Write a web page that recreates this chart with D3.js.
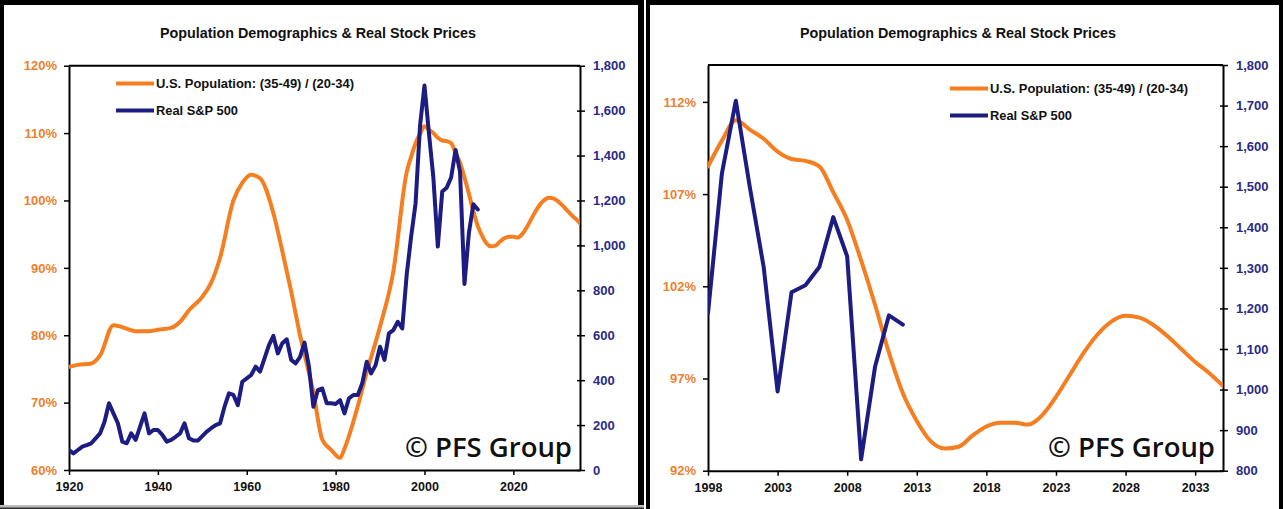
<!DOCTYPE html>
<html>
<head>
<meta charset="utf-8">
<script src="https://cdn.jsdelivr.net/npm/d3@7"></script>
<style>
  html, body { margin: 0; padding: 0; background: #fff; }
  svg { display: block; }
</style>
</head>
<body>
<svg id="chart" width="1283" height="509"></svg>
<script>
// ---------- DATA ----------
const chartTitle = "Population Demographics & Real Stock Prices";
const seriesNames = ["U.S. Population: (35-49) / (20-34)", "Real S&P 500"];
const watermark = "\u00A9 PFS Group";

// U.S. population ratio (35-49)/(20-34), percent
const popYears = [1920,1922,1925,1927,1930,1932,1935,1938,1940,1943,1945,1947,1950,1952,1954,1957,1959,1961,1963,1966,1968,1970,1972,1975,1977,1979,1981,1982,1985,1987,1990,1993,1996,1997,
  1998,1999,2000,2001,2002,2003,2004,2005,2006,2007,2008,2009,2010,2011,2012,2013,2014,2015,2016,2017,2018,2019,2020,2021,2022,2023,2024,2025,2026,2027,2028,2029,2030,2031,2032,2033,2034,2035];
const popValues = [75.3,75.6,75.8,77.0,81.5,81.2,80.6,80.6,80.8,81.1,82.0,83.7,85.7,87.8,91.5,100.0,102.6,103.8,103.3,98.1,92.5,86.5,80.0,71.5,64.5,63.0,61.8,63.2,69.5,74.5,81.3,89.5,104.2,106.5,
  108.5,109.9,111.0,110.5,110.0,109.3,108.9,108.8,108.5,107.1,105.6,103.4,101.0,98.4,96.2,94.7,93.6,93.2,93.3,93.9,94.4,94.6,94.6,94.5,95.0,96.0,97.2,98.4,99.4,100.1,100.4,100.3,99.9,99.3,98.6,97.9,97.3,96.6];

// Real S&P 500, annual
const spYears = d3.range(1920, 2013);
const spValues = [89,74,89,104,111,119,141,163,215,297,252,208,126,119,163,134,193,252,163,178,
  178,156,126,134,148,163,208,141,131,131,151,171,186,200,208,282,341,334,289,393,
  408,423,460,438,497,556,597,519,564,582,490,475,504,567,460,282,356,363,297,297,
  294,311,252,319,334,334,386,482,430,467,549,490,608,623,660,630,870,1040,1188,1533,
  1712,1500,1302,995,1240,1257,1302,1425,1328,828,1056,1183,1160];

// Axis ticks
const leftXTicks = [1920,1940,1960,1980,2000,2020];
const leftPctTicks = [60,70,80,90,100,110,120];
const leftSpTicks = [0,200,400,600,800,1000,1200,1400,1600,1800];
const rightXTicks = [1998,2003,2008,2013,2018,2023,2028,2033];
const rightPctTicks = [92,97,102,107,112];
const rightSpTicks = [800,900,1000,1100,1200,1300,1400,1500,1600,1700,1800];

// ---------- STYLE ----------
const ORANGE = "#F47E20";
const ORANGE_TXT = "#EE7F2F";
const NAVY = "#1C1C82";
const NAVY_TXT = "#2A2A88";
const FONT = "'Liberation Sans', Arial, sans-serif";

const svg = d3.select("#chart");
svg.append("rect").attr("width",1283).attr("height",509).attr("fill","#fff");

const pop = popYears.map((y,i)=>({x:y, v:popValues[i]}));
const sp = spYears.map((y,i)=>({x:y, v:spValues[i]}));

function panel(cfg) {
  const g = svg.append("g");
  const x = d3.scaleLinear().domain(cfg.xDomain).range([cfg.x0, cfg.x1]);
  const yP = d3.scaleLinear().domain(cfg.pDomain).range([cfg.y1, cfg.y0]);
  const yS = d3.scaleLinear().domain(cfg.sDomain).range([cfg.y1, cfg.y0]);

  // title
  g.append("text").attr("x", cfg.titleX).attr("y", 38)
    .attr("text-anchor","middle").attr("font-family",FONT).attr("font-weight","bold")
    .attr("font-size",15).attr("fill","#111")
    .attr("textLength",316).attr("lengthAdjust","spacingAndGlyphs")
    .text(chartTitle);

  // axes
  const ax = d3.axisBottom(x).tickValues(cfg.xTicks).tickFormat(d3.format("d")).tickSize(5).tickSizeOuter(0);
  const axL = d3.axisLeft(yP).tickValues(cfg.pTicks).tickFormat(d=>d+"%").tickSize(5).tickSizeOuter(0);
  const axR = d3.axisRight(yS).tickValues(cfg.sTicks).tickFormat(d3.format(",")).tickSize(5).tickSizeOuter(0);

  const gx = g.append("g").attr("transform",`translate(0,${cfg.y1})`).call(ax);
  gx.selectAll("text").attr("font-size",12.5).attr("font-weight","bold").attr("fill","#111").attr("dy","1.05em");
  const gl = g.append("g").attr("transform",`translate(${cfg.x0},0)`).call(axL);
  gl.selectAll("text").attr("font-size",13).attr("font-weight","bold").attr("fill",ORANGE_TXT).attr("x",-12);
  const gr = g.append("g").attr("transform",`translate(${cfg.x1},0)`).call(axR);
  gr.selectAll("text").attr("font-size",13).attr("font-weight","bold").attr("fill",NAVY_TXT).attr("x",13);
  gr.selectAll(".tick line").attr("x1",-3);
  [gx,gl,gr].forEach(s=>{
    s.attr("font-family",FONT);
    s.selectAll("path").attr("stroke","#000").attr("stroke-width",2);
    s.selectAll(".tick line").attr("stroke","#000").attr("stroke-width",1.5);
  });
  // top border of plot area
  g.append("line").attr("x1",cfg.x0).attr("x2",cfg.x1).attr("y1",cfg.y0).attr("y2",cfg.y0)
    .attr("stroke","#000").attr("stroke-width",2);

  // watermark
  g.append("text").attr("x", cfg.wmX).attr("y", 457).attr("text-anchor","end")
    .attr("font-family","'Open Sans', sans-serif").attr("font-weight",600).attr("font-size",27)
    .attr("fill","#111").attr("textLength",167).attr("lengthAdjust","spacingAndGlyphs")
    .text(watermark);

  const clipId = "clip" + cfg.id;
  svg.append("clipPath").attr("id",clipId).append("rect")
    .attr("x",cfg.x0).attr("y",cfg.y0-4).attr("width",cfg.x1-cfg.x0).attr("height",cfg.y1-cfg.y0+8);

  const popData = pop.filter(d=>d.x>=cfg.xDomain[0] && d.x<=cfg.xDomain[1]);
  const spData = sp.filter(d=>d.x>=cfg.xDomain[0] && d.x<=cfg.xDomain[1]);

  const lp = d3.line().x(d=>x(d.x)).y(d=>yP(d.v)).curve(d3.curveMonotoneX);
  const ls = d3.line().x(d=>x(d.x)).y(d=>yS(d.v));
  const gLines = g.append("g").attr("clip-path",`url(#${clipId})`);
  gLines.append("path").datum(popData).attr("d",lp).attr("fill","none")
    .attr("stroke",ORANGE).attr("stroke-width",4).attr("stroke-linejoin","round").attr("stroke-linecap","round");
  gLines.append("path").datum(spData).attr("d",ls).attr("fill","none")
    .attr("stroke",NAVY).attr("stroke-width",4).attr("stroke-linejoin","round").attr("stroke-linecap","round");

  // legend
  const lg = g.append("g");
  [[ORANGE, seriesNames[0], 198],[NAVY, seriesNames[1], 82]].forEach((s,i)=>{
    const yy = cfg.legY + i*27;
    lg.append("line").attr("x1",cfg.legX).attr("x2",cfg.legX+38).attr("y1",yy).attr("y2",yy)
      .attr("stroke",s[0]).attr("stroke-width",4);
    lg.append("text").attr("x",cfg.legX+40).attr("y",yy+4.5)
      .attr("font-family",FONT).attr("font-weight","bold").attr("font-size",13).attr("fill","#111")
      .attr("textLength",s[2]).attr("lengthAdjust","spacingAndGlyphs")
      .text(s[1]);
  });
}

panel({id:"L", xDomain:[1920,2035], pDomain:[60,120], sDomain:[0,1800],
  x0:69, x1:580, y0:65.7, y1:470,
  xTicks:leftXTicks, pTicks:leftPctTicks, sTicks:leftSpTicks,
  titleX:318, wmX:572, legX:116, legY:83.5});

panel({id:"R", xDomain:[1998,2035], pDomain:[92,114], sDomain:[800,1800],
  x0:708, x1:1223, y0:65, y1:470.7,
  xTicks:rightXTicks, pTicks:rightPctTicks, sTicks:rightSpTicks,
  titleX:958, wmX:1215, legX:950, legY:88.5});

// ---------- panel frames ----------
const fr = svg.append("g").attr("fill","#000");
// left panel
fr.append("rect").attr("x",0).attr("y",0).attr("width",644).attr("height",5);
fr.append("rect").attr("x",0).attr("y",0).attr("width",4).attr("height",509);
fr.append("rect").attr("x",638).attr("y",0).attr("width",6).attr("height",509);
fr.append("rect").attr("x",0).attr("y",505).attr("width",644).attr("height",3).attr("fill","#bbb");
fr.append("rect").attr("x",0).attr("y",507.5).attr("width",644).attr("height",1.5).attr("fill","#333");
// right panel
fr.append("rect").attr("x",646).attr("y",0).attr("width",637).attr("height",5);
fr.append("rect").attr("x",646).attr("y",0).attr("width",4).attr("height",509);
fr.append("rect").attr("x",1279).attr("y",0).attr("width",4).attr("height",509);
</script>
</body>
</html>
